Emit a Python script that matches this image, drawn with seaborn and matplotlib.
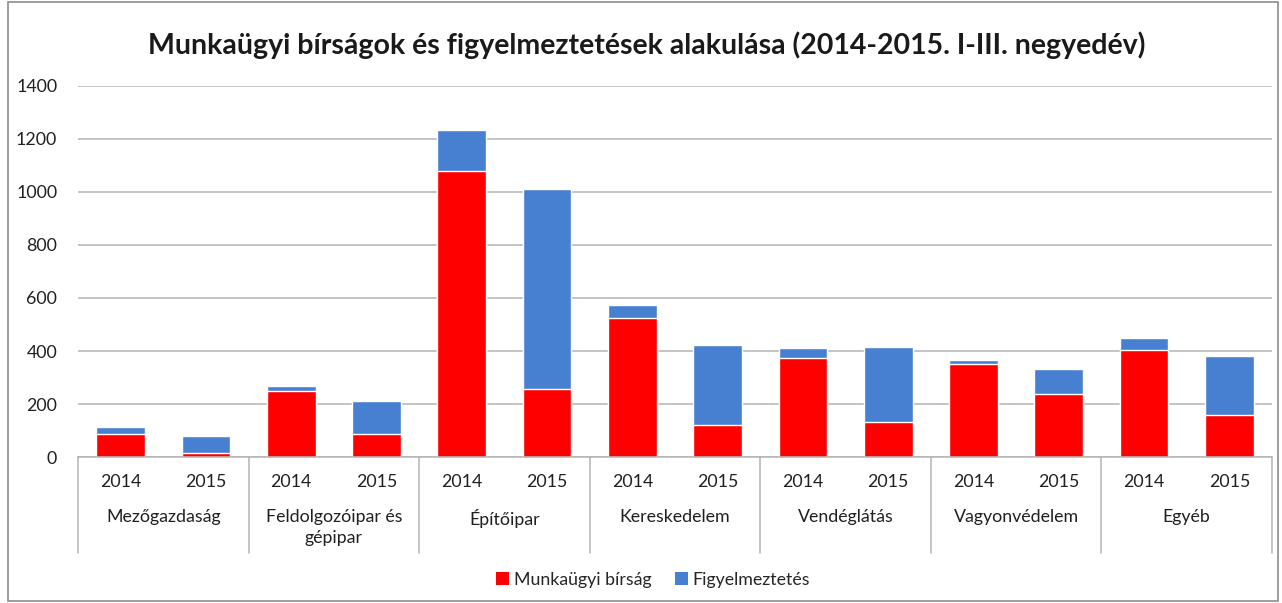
import numpy as np
import pandas as pd
import seaborn as sns
import matplotlib
matplotlib.use("Agg")
import matplotlib.pyplot as plt
from matplotlib.patches import Patch, Rectangle
from matplotlib.transforms import blended_transform_factory

# ---- data ----
categories = ["Mezőgazdaság", "Feldolgozóipar és\ngépipar", "Építőipar", "Kereskedelem",
              "Vendéglátás", "Vagyonvédelem", "Egyéb"]
years = ["2014", "2015"]
birsag = [88, 15, 251, 88, 1078, 256, 525, 123, 373, 132, 353, 239, 405, 160]
figyelmeztetes = [27, 65, 19, 123, 154, 756, 47, 300, 37, 285, 13, 93, 44, 223]
title = "Munkaügyi bírságok és figyelmeztetések alakulása (2014-2015. I-III. negyedév)"
series_names = ["Munkaügyi bírság", "Figyelmeztetés"]
yticks = [0, 200, 400, 600, 800, 1000, 1200, 1400]

RED = "#FF0000"
BLUE = "#4780D0"
GRID = "#B4B4B4"

sns.set_style("white")
plt.rcParams["font.family"] = ["Lato", "DejaVu Sans"]

rows = []
for i, cat in enumerate(categories):
    for j, yr in enumerate(years):
        k = i * 2 + j
        rows.append({"label": f"{cat}|{yr}", "year": yr, "cat": cat,
                     "birsag": birsag[k], "total": birsag[k] + figyelmeztetes[k]})
df = pd.DataFrame(rows)

W, H = 1282, 603
fig = plt.figure(figsize=(W / 100, H / 100), dpi=100)
fig.patch.set_facecolor("white")
ax = fig.add_axes([78 / W, 1 - 457.3 / H, (1272 - 78) / W, (457.3 - 85.5) / H])

sns.barplot(data=df, x="label", y="total", color=BLUE, width=0.57, ax=ax,
            saturation=1, errorbar=None, zorder=3)
sns.barplot(data=df, x="label", y="birsag", color=RED, width=0.57, ax=ax,
            saturation=1, errorbar=None, zorder=3)

FS = 12.8
ax.set_xlim(-0.5, len(df) - 0.5)
ax.set_ylim(0, 1400)
ax.set_yticks(yticks)
ax.set_yticklabels([str(v) for v in yticks], fontsize=FS, color="#202020")
ax.tick_params(axis="y", length=0, pad=15)
ax.set_xticks([])
ax.set_xlabel("")
ax.set_ylabel("")
ax.grid(axis="y", color=GRID, linewidth=1.1, zorder=0)
for s in ["left", "right", "top"]:
    ax.spines[s].set_visible(False)
ax.spines["bottom"].set_color(GRID)
ax.spines["bottom"].set_linewidth(1.1)
ax.spines["bottom"].set_zorder(4)

tr = blended_transform_factory(ax.transData, ax.transAxes)
ah = 457.3 - 85.5
def ay(py):
    return (457.3 - py) / ah

for k, row in df.iterrows():
    ax.text(k, ay(482), row["year"], transform=tr, ha="center", va="center",
            fontsize=FS, color="#202020")
for i, cat in enumerate(categories):
    ax.text(i * 2 + 0.5, ay(509), cat, transform=tr, ha="center", va="top",
            fontsize=FS, color="#202020", linespacing=1.35)
for b in np.arange(-0.5, len(df), 2):
    ax.plot([b, b], [0, ay(553)], transform=tr, color=GRID, linewidth=1.1,
            clip_on=False)

fig.text(647 / W, 1 - 45 / H, title, ha="center", va="center",
         fontsize=20.5, fontweight="bold", color="#1a1a1a")

handles = [Patch(facecolor=RED, edgecolor="none"), Patch(facecolor=BLUE, edgecolor="none")]
fig.legend(handles, series_names, loc="center", bbox_to_anchor=(653 / W, 1 - 580 / H),
           ncol=2, frameon=False, fontsize=FS, handlelength=0.75, handleheight=0.75,
           handletextpad=0.25, columnspacing=1.3)

fig.patches.append(Rectangle((8 / W, 2 / H), (1278 - 8) / W, (H - 4) / H,
                             transform=fig.transFigure, fill=False,
                             edgecolor="#8c8c8c", linewidth=1.2))

fig.savefig("out.png", dpi=100)
